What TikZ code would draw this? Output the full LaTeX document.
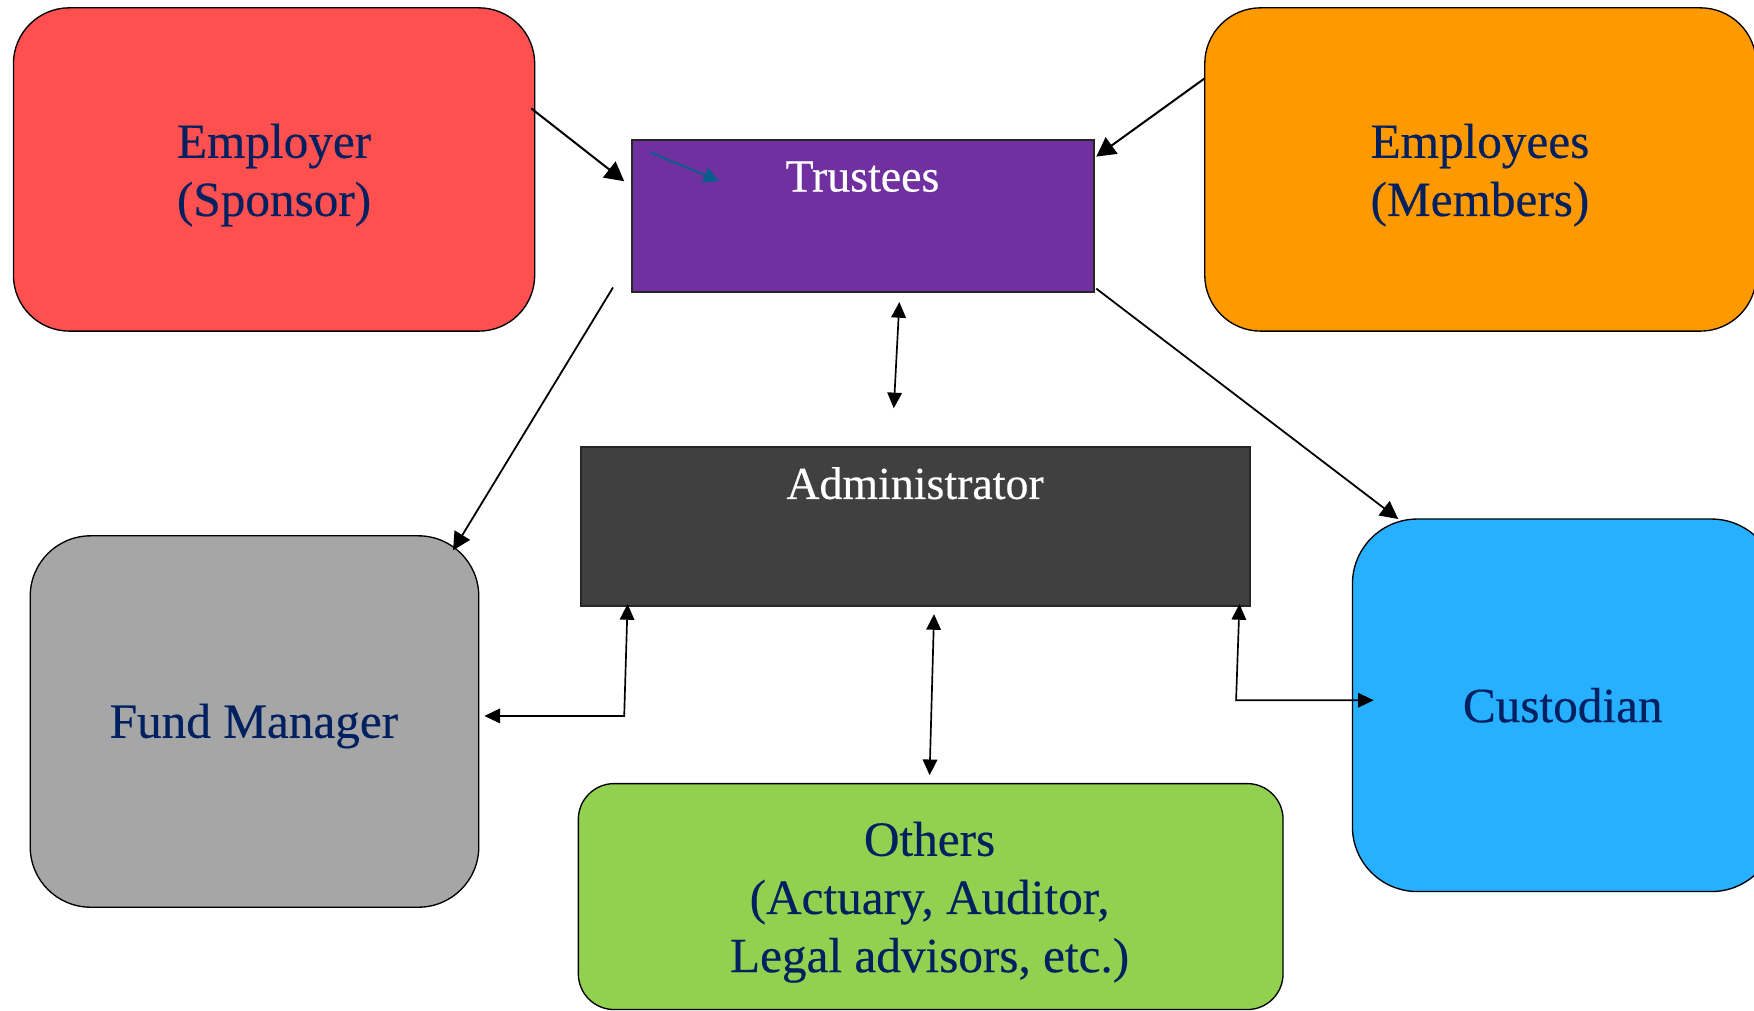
\documentclass[tikz,border=0pt]{standalone}
\usepackage{fontspec}
\setmainfont{Liberation Serif}[FakeBold=0.35]
\usetikzlibrary{arrows.meta}
\definecolor{cEmployer}{RGB}{255,80,80}
\definecolor{cTrustees}{RGB}{112,48,160}
\definecolor{cEmployees}{RGB}{255,153,0}
\definecolor{cAdmin}{RGB}{64,64,64}
\definecolor{cFund}{RGB}{166,166,166}
\definecolor{cCust}{RGB}{38,176,255}
\definecolor{cOthers}{RGB}{146,208,80}
\definecolor{cNavy}{RGB}{0,32,96}
\definecolor{cBlueArrow}{RGB}{10,92,140}
\tikzset{
  rbox/.style={draw=black, line width=0.6pt, rounded corners=#1, inner sep=0pt},
  rtext/.style={text=cNavy, align=center, inner sep=0pt, font=\fontsize{22}{26}\selectfont},
  sbox/.style={draw=black!85, line width=0.9pt, inner sep=0pt},
  wlabel/.style={text=white, inner sep=0pt, font=\fontsize{20.5}{24}\selectfont},
  bigconn/.style={line width=0.9pt, -{Triangle[length=8.5pt,width=9pt]}},
  smallconn/.style={line width=0.75pt, {Triangle[length=7pt,width=6.5pt]}-{Triangle[length=7pt,width=6.5pt]}},
}
\begin{document}
\begin{tikzpicture}[x=0.5pt,y=-0.5pt]
\useasboundingbox (0,0) rectangle (1568,903);
% boxes
\node[rbox=25pt, fill=cEmployer, minimum width=233pt, minimum height=144.5pt] (employer) at (245,151.5) {};
\node[rtext] (employerT) at (245,156.5) {Employer\\(Sponsor)};
\node[rbox=25pt, fill=cEmployees, minimum width=246.5pt, minimum height=144.5pt] (employees) at (1323.5,151.5) {};
\node[rtext] (employeesT) at (1323,156.5) {Employees\\(Members)};
\node[sbox, fill=cTrustees, minimum width=206.5pt, minimum height=68pt] (trustees) at (771.5,193) {};
\node[wlabel] (trusteesT) at (771,158) {Trustees};
\node[sbox, fill=cAdmin, minimum width=299pt, minimum height=71pt] (admin) at (818,471) {};
\node[wlabel] (adminT) at (818,432) {Administrator};
\node[rbox=27pt, fill=cFund, minimum width=200.5pt, minimum height=166pt] (fund) at (227.5,645) {};
\node[rtext] (fundT) at (227,649) {Fund Manager};
\node[rbox=29pt, fill=cCust, minimum width=189.5pt, minimum height=166.5pt] (cust) at (1398.5,630.5) {};
\node[rtext] (custT) at (1397,630.5) {Custodian};
\node[rbox=16pt, fill=cOthers, minimum width=315pt, minimum height=101pt] (others) at (832,801.5) {};
\node[rtext] (othersT) at (831,806.5) {Others\\(Actuary, Auditor,\\Legal advisors, etc.)};
% connector end points
\coordinate (e1) at (475,97);   \coordinate (t1) at (558,162);
\coordinate (m1) at (1077,70);  \coordinate (t2) at (980,140);
\coordinate (b1) at (581,136);  \coordinate (b2) at (643,162);
\coordinate (t3) at (548,257);  \coordinate (f1) at (405,492);
\coordinate (t4) at (980,258);  \coordinate (c1) at (1250,464);
\coordinate (t5) at (804,270);  \coordinate (a1) at (799,365);
\coordinate (a2) at (561,540);  \coordinate (k1) at (558,640); \coordinate (f2) at (433,640);
\coordinate (a3) at (835,549);  \coordinate (o1) at (831,693);
\coordinate (a4) at (1108,540); \coordinate (k2) at (1105,626); \coordinate (c2) at (1228,626);
% connectors
\draw[bigconn] (e1) -- (t1);
\draw[bigconn] (m1) -- (t2);
\draw[line width=0.9pt, draw=cBlueArrow, -{Triangle[length=7pt,width=7pt]}] (b1) -- (b2);
\draw[bigconn, line width=0.8pt, -{Triangle[length=8pt,width=8pt]}] (t3) -- (f1);
\draw[bigconn, line width=0.8pt, -{Triangle[length=8pt,width=8pt]}] (t4) -- (c1);
\draw[smallconn] (t5) -- (a1);
\draw[smallconn] (f2) -- (k1) -- (a2);
\draw[smallconn] (a3) -- (o1);
\draw[smallconn] (c2) -- (k2) -- (a4);
\end{tikzpicture}
\end{document}
